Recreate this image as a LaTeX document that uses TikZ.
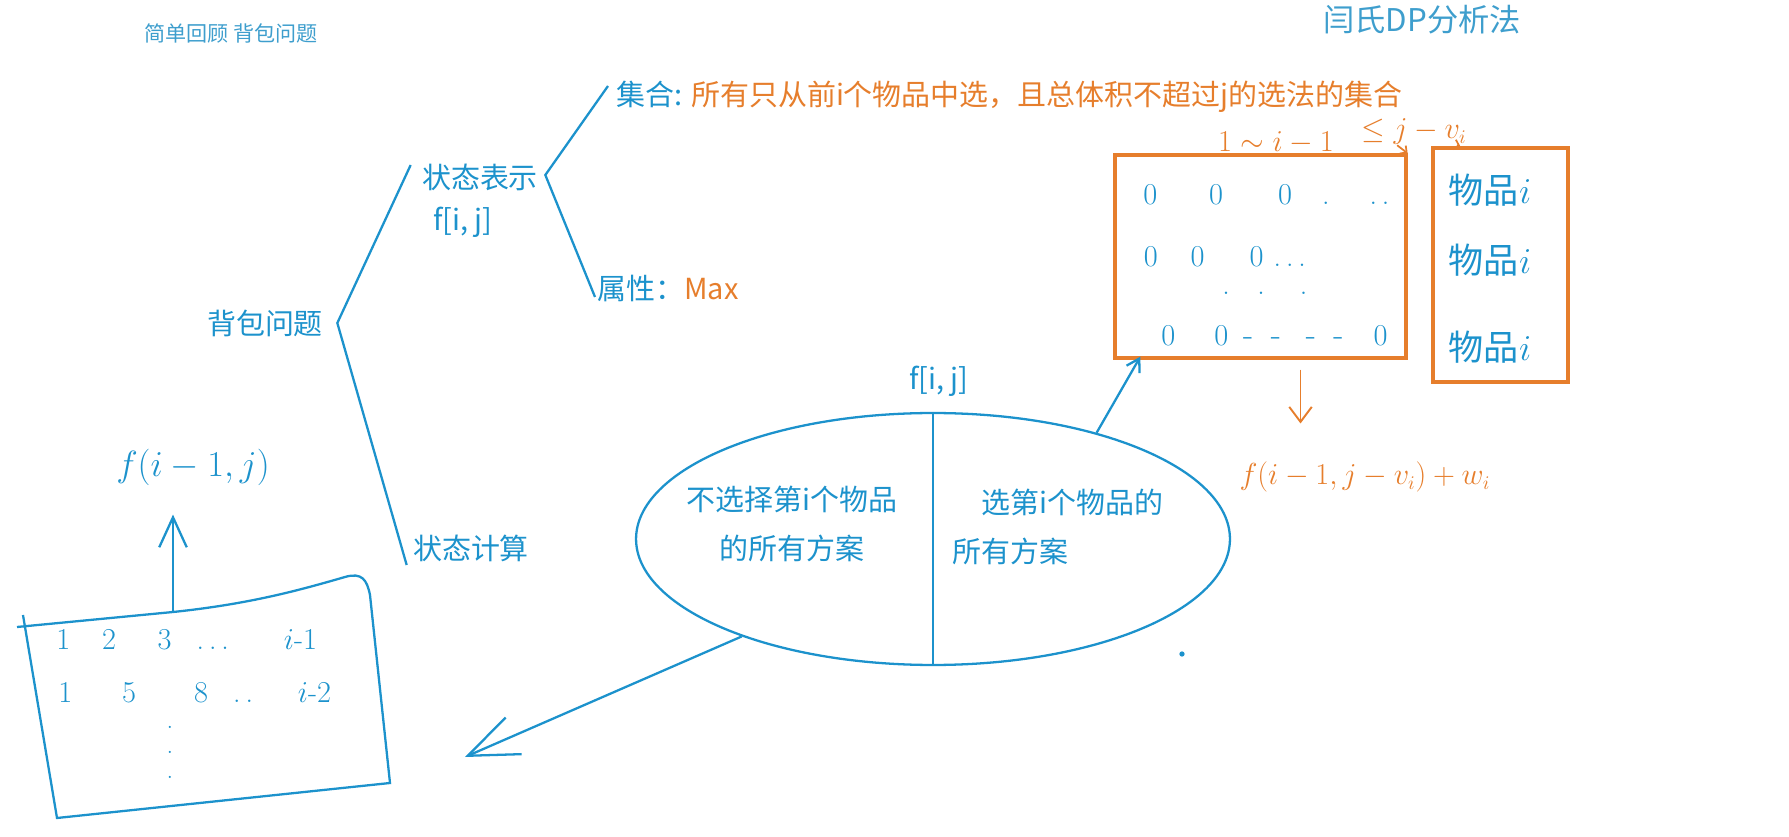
\documentclass[tikz,border=0pt]{standalone}
\usepackage{fontspec}
\newfontfamily\cjk{Noto Sans CJK SC}
\usepackage{tikz}
\usetikzlibrary{
  shapes.geometric, arrows.meta, positioning, calc
}
\definecolor{penblue}{RGB}{28,146,204}
\definecolor{penorange}{RGB}{230,126,44}
\definecolor{titleblue}{RGB}{62,158,205}
\tikzset{
  titletext/.style={
    text=titleblue, inner sep=0pt
  },
  treetext/.style={
    font=\cjk\fontsize{16.5}{28}\selectfont, text=penblue, inner sep=0pt
  },
  treeline/.style={
    draw=penblue, line width=1.3pt
  },
  tablebox/.style={
    draw=penorange, line width=1.9pt, inner sep=0pt
  },
  handblue/.style={
    font=\fontsize{17}{20}\selectfont, text=penblue, inner sep=0pt
  },
  handorange/.style={
    font=\fontsize{16}{18}\selectfont, text=penorange, inner sep=0pt
  },
  handarrow/.style={
    -{Straight Barb[length=0.3cm, width=0.45cm]}, line width=1.1pt
  },
  tinyarrow/.style={
    -{Straight Barb[length=0.1cm, width=0.2cm]}, draw=penorange, line width=1pt
  },
}

\begin{document}
\begin{tikzpicture}[x=0.02cm, y=-0.02cm]
  \useasboundingbox (0,0) rectangle (1789,837);

  % --- Titles ---
  \node[titletext, font=\cjk\fontsize{12}{14}\selectfont] (topic) at (231,33)
    {简单回顾 背包问题};
  \node[titletext, font=\cjk\fontsize{17.8}{22}\selectfont] (method) at (1422,20)
    {闫氏DP分析法};

  % --- Tree ---
  \node[treetext] (kp) at (265,323) {背包问题};
  \node[treetext] (st) at (480,177) {状态表示};
  \node[treetext] (stf) at (463,222) {f[i, j]};
  \node[treetext] (sc) at (471,548) {状态计算};
  \node[treetext, anchor=west] (set) at (616,97)
    {集合: \textcolor{penorange}{所有只从前i个物品中选，且总体积不超过j的选法的集合}};
  \node[treetext, anchor=west] (attr) at (597,289)
    {属性：\textcolor{penorange}{Max}};

  \draw[treeline] ($(st.west)+(-11,-12)$) -- ($(kp.east)+(14,0)$)
    -- ($(sc.west)+(-6,17)$);
  \draw[treeline] ($(set.west)+(-8,-11)$) -- ($(st.east)+(7,-2)$)
    -- ($(attr.west)+(-2,8)$);

  % --- Split of f[i, j] ---
  \node[ellipse, treeline, minimum width=11.88cm, minimum height=5.04cm,
    inner sep=0pt] (ell) at (933,539) {};
  \draw[treeline] (ell.north) -- (ell.south);
  \node[treetext] (ellf) at (939,381) {f[i, j]};
  \node[treetext, align=center] (nosel) at (792,524)
    {不选择第i个物品\\的所有方案};
  \node[treetext, align=left] (sel) at (1058,527)
    {\hspace*{1em}选第i个物品的\\所有方案};

  % --- Right: table and items ---
  \node[tablebox, minimum width=5.82cm, minimum height=4.06cm] (tbl)
    at (1260.5,256.5) {};
  \node[tablebox, minimum width=2.7cm, minimum height=4.68cm] (items)
    at (1500.5,265) {};

  \node[handorange] (range) at (1276,143) {$1\sim i-1$};
  \node[handorange] (lim) at (1414,132) {$\le j-v_i$};
  \draw[tinyarrow] ($(lim.south west)+(36,0)$) -- (tbl.north east);
  \draw[tinyarrow] ($(lim.south east)+(-10,0)$) -- ($(items.north west)+(29,0)$);

  \node[handblue, anchor=west] (zrow1) at (1143,195)
    {$0$\hspace{1.04cm}$0$\hspace{1.1cm}$0$\hspace{0.6cm}.\hspace{0.8cm}.\,.};
  \node[handblue, anchor=west] (zrow2) at (1143.5,257)
    {$0$\hspace{0.66cm}$0$\hspace{0.9cm}$0$\hspace{0.2cm}.\,.\,.};
  \node[handblue, anchor=west] (zrow3) at (1222,293)
    {.\hspace{0.55cm}.\hspace{0.7cm}.};
  \node[handblue, anchor=west, font=\fontsize{19}{22}\selectfont] (zrow4) at (1161,336)
    {$0$\hspace{0.78cm}$0$\hspace{0.3cm}-\hspace{0.35cm}-\hspace{0.5cm}-\hspace{0.35cm}-\hspace{0.6cm}$0$};

  \node[handblue, font=\cjk\fontsize{20}{24}\selectfont] (item1) at (1490,190) {物品$i$};
  \node[handblue, font=\cjk\fontsize{20}{24}\selectfont] (item2) at (1490,260) {物品$i$};
  \node[handblue, font=\cjk\fontsize{20}{24}\selectfont] (item3) at (1490,347) {物品$i$};

  \node[handorange] (res) at (1365,477) {$f(i-1,j-v_i)+w_i$};
  \coordinate (dn) at ($(tbl.south)+(40,10)$);
  \draw[handarrow, draw=penorange] (dn) -- ($(dn |- res.north)+(0,-38)$);

  \draw[treeline, -{Straight Barb[length=0.25cm, width=0.3cm]}]
    (ell.33) -- ($(tbl.south west)+(27,-3)$);

  % --- Left: table of f(i-1, j) ---
  \draw[treeline] (17,627) -- (173,612)
    .. controls (250,604) and (300,590) .. (345,577)
    .. controls (362,572) and (367,580) .. (370,595)
    -- (390,783) -- (57,818) -- (23,615);
  \coordinate (lbtop) at (173,612);
  \node[handblue, font=\fontsize{20.5}{24}\selectfont] (prev) at (193,467) {$f(i-1,j)$};
  \draw[treeline, -{Straight Barb[length=0.6cm, width=0.55cm]}]
    (lbtop) -- ($(lbtop |- prev.south)+(0,29)$);

  \node[handblue, anchor=west] (lrow1) at (56,640)
    {$1$\hspace{0.64cm}$2$\hspace{0.83cm}$3$\hspace{0.5cm}.\,.\,.\hspace{1.1cm}$i$-$1$};
  \node[handblue, anchor=west] (lrow2) at (58,693)
    {$1$\hspace{1cm}$5$\hspace{1.16cm}$8$\hspace{0.5cm}.\,.\hspace{0.9cm}$i$-$2$};
  \node[handblue, align=center, font=\fontsize{15}{14.2}\selectfont] (lvdots)
    at (170,752) {.\\.\\.};

  \coordinate (lbtip) at (465,757);
  \draw[treeline, -{Straight Barb[length=1cm, width=0.8cm]}] (ell.207.5) -- (lbtip);

  \fill[penblue] (1182,654) circle[radius=1.5pt];
\end{tikzpicture}
\end{document}
